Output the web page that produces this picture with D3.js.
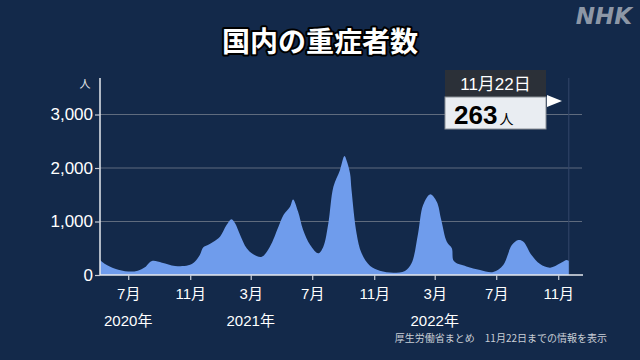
<!DOCTYPE html>
<html><head><meta charset="utf-8">
<script src="https://cdn.jsdelivr.net/npm/d3@7"></script>
<style>
html,body{margin:0;padding:0;background:#13294a;}
svg{display:block;}
text{font-family:"Noto Sans CJK JP","Noto Sans",sans-serif;}
.lab{font-family:"Liberation Sans","Noto Sans CJK JP",sans-serif;}
</style></head>
<body><svg id="c" width="640" height="360"></svg>
<script>
const dates = ["2020-05-06","2020-05-16","2020-06-05","2020-07-01","2020-07-20","2020-08-03","2020-08-17","2020-09-06","2020-10-02","2020-10-28","2020-11-10","2020-11-20","2020-11-27","2020-12-06","2020-12-17","2020-12-30","2021-01-12","2021-01-22","2021-01-29","2021-02-08","2021-02-21","2021-03-06","2021-03-23","2021-04-08","2021-04-25","2021-05-05","2021-05-18","2021-05-24","2021-06-03","2021-06-13","2021-06-27","2021-07-13","2021-07-23","2021-08-02","2021-08-12","2021-08-25","2021-09-03","2021-09-07","2021-09-14","2021-09-17","2021-09-27","2021-10-07","2021-10-24","2021-11-12","2021-12-09","2022-01-01","2022-01-14","2022-01-27","2022-02-06","2022-02-20","2022-03-05","2022-03-14","2022-03-25","2022-04-04","2022-04-08","2022-05-03","2022-05-30","2022-06-25","2022-07-15","2022-08-01","2022-08-14","2022-08-24","2022-09-09","2022-09-26","2022-10-16","2022-11-05","2022-11-18","2022-11-22"];
const severe = [280,205,118,65,80,143,262,230,168,180,249,373,517,560,622,715,933,1043,965,747,498,386,342,529,902,1120,1275,1413,1182,840,560,405,529,965,1650,1960,2223,2147,1900,1587,778,405,168,80,43,75,218,778,1307,1507,1369,1027,622,498,260,160,93,55,187,560,653,622,373,205,137,218,280,263];
const yTicks = [0,1000,2000,3000];
const xTickDates = ["2020-07-01","2020-11-01","2021-03-01","2021-07-01","2021-11-01","2022-03-01","2022-07-01","2022-11-01"];
const xTickLabels = ["7月","11月","3月","7月","11月","3月","7月","11月"];
const yearLabels = [["2020-07-01","2020年"],["2021-03-01","2021年"],["2022-03-01","2022年"]];
const title = "国内の重症者数";
const latestDate = "11月22日";
const latestValue = 263;
const unit = "人";
const source = "厚生労働省まとめ　11月22日までの情報を表示";

const parse = d3.timeParse("%Y-%m-%d");
const data = dates.map((d,i)=>({date:parse(d), v:severe[i]}));
const svg = d3.select("#c");
svg.append("rect").attr("width",640).attr("height",360).attr("fill","#13294a");

const x = d3.scaleTime().domain([parse("2020-05-06"), parse("2022-11-22")]).range([100, 568.8]);
const y = d3.scaleLinear().domain([0,3000]).range([275, 114.5]);

// gridlines
svg.append("g").selectAll("line").data(yTicks.slice(1)).join("line")
  .attr("x1",100).attr("x2",582).attr("y1",d=>y(d)).attr("y2",d=>y(d))
  .attr("stroke","#5f6b7e").attr("stroke-width",1.2);

// vertical marker line
svg.append("line").attr("x1",x(parse("2022-11-22"))).attr("x2",x(parse("2022-11-22")))
  .attr("y1",78).attr("y2",275).attr("stroke","#34476a").attr("stroke-width",1);

// area
const area = d3.area().x(d=>x(d.date)).y0(y(0)).y1(d=>y(d.v)).curve(d3.curveCatmullRom.alpha(0.5));
svg.append("path").datum(data).attr("d",area).attr("fill","#6f9cec");

// y axis
const yAxis = d3.axisLeft(y).tickValues(yTicks).tickSize(5).tickFormat(d3.format(","));
const gy = svg.append("g").attr("transform","translate(100,0)").call(yAxis);
gy.select(".domain").attr("d","M0,78V275").attr("stroke","#e6e9ee").attr("stroke-width",1.5);
gy.selectAll(".tick line").attr("stroke","#c8ced8").attr("stroke-width",1.2);
gy.selectAll(".tick text").attr("fill","#ffffff").attr("font-size",17).attr("x",-7)
  .attr("class","lab");
svg.append("text").attr("x",85).attr("y",88).attr("text-anchor","middle")
  .attr("fill","#e6e9ee").attr("font-size",11).text(unit);

// x axis
const xAxis = d3.axisBottom(x).tickValues(xTickDates.map(parse)).tickSize(5)
  .tickFormat((d,i)=>xTickLabels[i]);
const gx = svg.append("g").attr("transform","translate(0,275)").call(xAxis);
gx.select(".domain").attr("d","M100,0H583").attr("stroke","#e6e9ee").attr("stroke-width",1.5);
gx.selectAll(".tick line").attr("stroke","#c8ced8").attr("stroke-width",1.2);
gx.selectAll(".tick text").attr("fill","#ffffff").attr("font-size",15).attr("y",13).attr("class","lab");
svg.append("g").selectAll("text").data(yearLabels).join("text")
  .attr("class","lab")
  .attr("x",d=>x(parse(d[0]))).attr("y",326).attr("text-anchor","middle")
  .attr("fill","#ffffff").attr("font-size",15).text(d=>d[1]);

// title
svg.append("text").attr("x",320).attr("y",52).attr("text-anchor","middle")
  .attr("fill","#ffffff").attr("font-size",28).attr("font-weight","bold")
  .attr("stroke","#000").attr("stroke-width",4).attr("stroke-linejoin","round")
  .style("paint-order","stroke").text(title);

// NHK logo
svg.append("text").attr("x",632).attr("y",24).attr("text-anchor","end")
  .attr("fill","#8d97a6").attr("font-size",23).attr("font-weight","900").attr("font-style","italic")
  .style("font-family","'DejaVu Sans','Liberation Sans',sans-serif").text("NHK");

// callout
svg.append("rect").attr("x",445).attr("y",70).attr("width",101).attr("height",27).attr("fill","#2b3038");
svg.append("text").attr("x",495.5).attr("y",90).attr("text-anchor","middle").attr("class","lab")
  .attr("fill","#ffffff").attr("font-size",17).text(latestDate);
svg.append("rect").attr("x",445).attr("y",97).attr("width",101).attr("height",32)
  .attr("fill","#e9edf2").attr("stroke","#8a8f96").attr("stroke-width",1);
const vt = svg.append("text").attr("x",454).attr("y",124).attr("fill","#000").attr("class","lab");
vt.append("tspan").attr("font-size",26).attr("font-weight","bold").text(latestValue);
vt.append("tspan").attr("font-size",14).attr("dx",2).style("font-family","'Noto Sans CJK JP'").text(unit);
svg.append("path").attr("d","M547,95L562,101L547,107Z").attr("fill","#ffffff");

// source
svg.append("text").attr("x",607).attr("y",342).attr("text-anchor","end")
  .attr("fill","#c9ced6").attr("font-size",10).text(source);
</script></body></html>
